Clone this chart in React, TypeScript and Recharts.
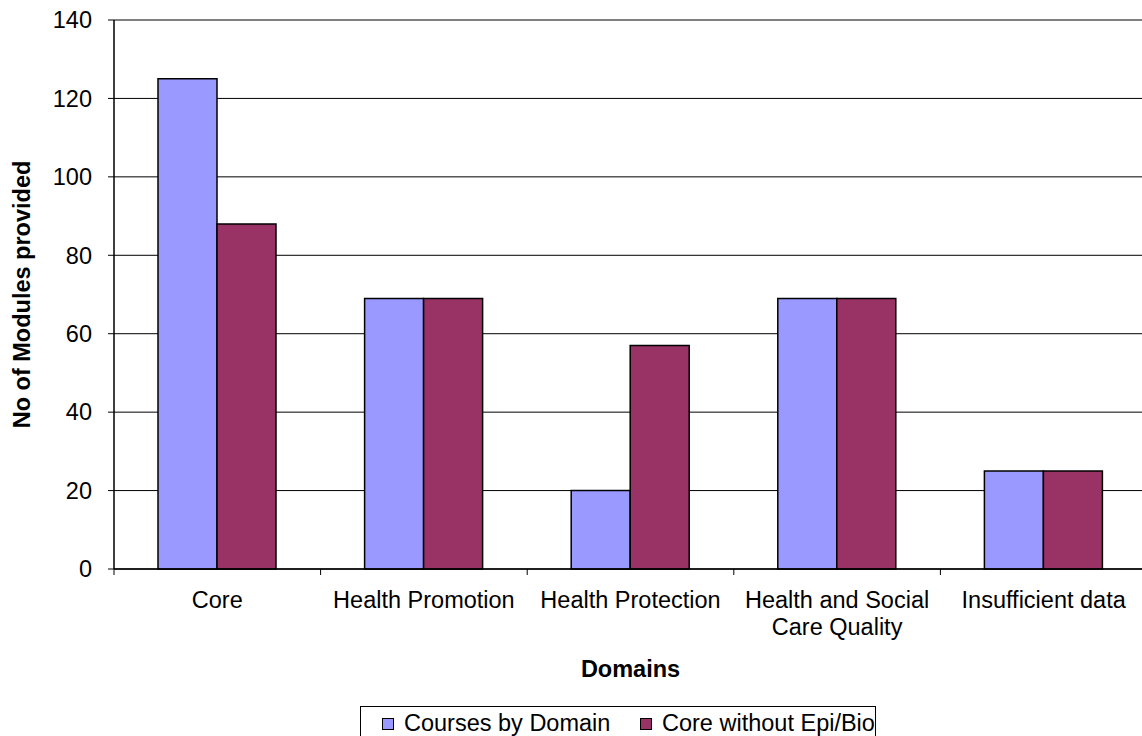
import React from 'react';
import { BarChart, Bar, XAxis, YAxis, CartesianGrid, Legend, Label } from 'recharts';

const categories = ['Core', 'Health Promotion', 'Health Protection', 'Health and Social\nCare Quality', 'Insufficient data'];
const coursesByDomain = [125, 69, 20, 69, 25];
const coreWithoutEpiBio = [88, 69, 57, 69, 25];
const yTicks = [0, 20, 40, 60, 80, 100, 120, 140];
const seriesNames = ['Courses by Domain', 'Core without Epi/Bio'];
const seriesColors = ['#9999FF', '#993366'];

const data = categories.map((c, i) => ({
  name: c,
  courses: coursesByDomain[i],
  core: coreWithoutEpiBio[i],
}));

const CHART_W = 1150;
const CHART_H = 736;
const Y_W = 114;
const M_RIGHT = 3;
const BAND = (CHART_W - Y_W - M_RIGHT) / categories.length;
const FONT = 'Liberation Sans, Arial, sans-serif';
const FS = 23.5;

const XTick = (props: any) => {
  const { x, y, payload } = props;
  const lines = String(payload.value).split('\n');
  return (
    <g>
      <line x1={x - BAND / 2} x2={x - BAND / 2} y1={y} y2={y + 6} stroke="#000" strokeWidth={1} />
      <text x={x} y={y + 39} textAnchor="middle" fontSize={FS} fontFamily={FONT} fill="#000">
        {lines.map((l, i) => (
          <tspan key={i} x={x} dy={i === 0 ? 0 : 27}>{l}</tspan>
        ))}
      </text>
    </g>
  );
};

const LegendContent = () => (
  <div style={{ width: 516, height: 40, border: '1.5px solid #000', boxSizing: 'border-box', background: '#fff', fontFamily: FONT, fontSize: FS, color: '#000', position: 'relative' }}>
    {seriesNames.map((n, i) => (
      <div key={n} style={{ position: 'absolute', left: i === 0 ? 21 : 279, top: 3, display: 'flex', alignItems: 'center', whiteSpace: 'nowrap' }}>
        <span style={{ display: 'inline-block', width: 10, height: 10, background: seriesColors[i], border: '1px solid #000', marginRight: 10 }} />
        <span>{n}</span>
      </div>
    ))}
  </div>
);

export default function App() {
  return (
    <div style={{ position: 'absolute', left: 0, top: 0, width: 1142, height: 736, overflow: 'hidden', background: '#fff' }}>
      <BarChart
        width={CHART_W}
        height={CHART_H}
        data={data}
        margin={{ top: 20, right: M_RIGHT, left: 0, bottom: 0 }}
        barCategoryGap={44}
        barGap={0}
      >
        <CartesianGrid vertical={false} stroke="#000" strokeWidth={1} />
        <XAxis
          dataKey="name"
          height={167}
          interval={0}
          tick={<XTick />}
          tickLine={false}
          tickSize={0}
          tickMargin={0}
          axisLine={{ stroke: '#000', strokeWidth: 1.5 }}
        >
          <Label value="Domains" position="insideTop" offset={91} style={{ fontFamily: FONT, fontSize: FS, fontWeight: 'bold', fill: '#000' }} />
        </XAxis>
        <YAxis
          width={Y_W}
          domain={[0, 140]}
          ticks={yTicks}
          interval={0}
          tickSize={6}
          tickMargin={16}
          tickLine={{ stroke: '#000' }}
          axisLine={{ stroke: '#000', strokeWidth: 1.5 }}
          tick={{ fontFamily: FONT, fontSize: FS, fill: '#000' }}
        >
          <Label value="No of Modules provided" angle={-90} position="insideLeft" offset={22} style={{ fontFamily: FONT, fontSize: FS, fontWeight: 'bold', fill: '#000', textAnchor: 'middle' }} />
        </YAxis>
        <Legend
          layout="vertical"
          align="center"
          verticalAlign="middle"
          content={<LegendContent />}
          wrapperStyle={{ position: 'absolute', left: 360, top: 706, width: 516 }}
        />
        <Bar dataKey="courses" name={seriesNames[0]} fill={seriesColors[0]} stroke="#000" strokeWidth={1.5} isAnimationActive={false} />
        <Bar dataKey="core" name={seriesNames[1]} fill={seriesColors[1]} stroke="#000" strokeWidth={1.5} isAnimationActive={false} />
      </BarChart>
    </div>
  );
}
